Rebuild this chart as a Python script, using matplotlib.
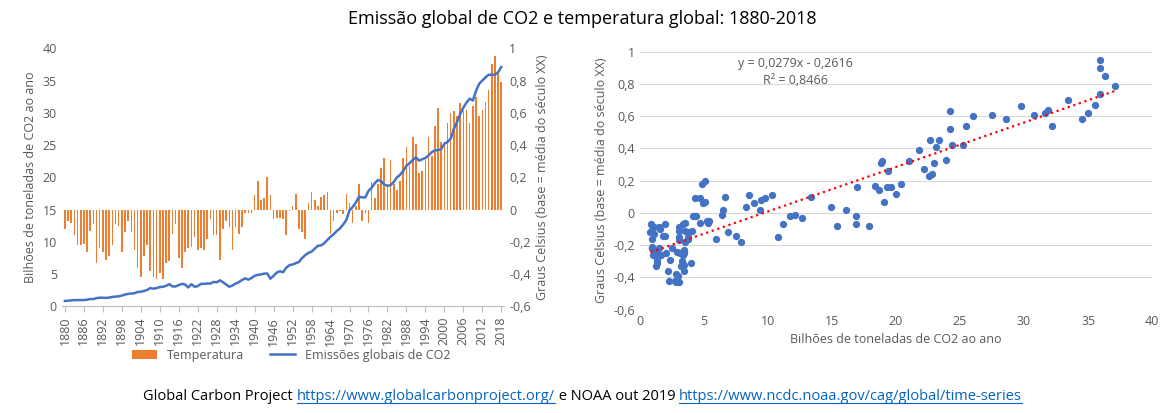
import matplotlib
matplotlib.use("Agg")
import matplotlib.pyplot as plt
import numpy as np
from matplotlib.ticker import FuncFormatter

plt.rcParams['font.family'] = ['Open Sans', 'DejaVu Sans']

anos = list(range(1880, 2019))
temperatura = [
    -0.12, -0.07, -0.08, -0.16, -0.22, -0.22, -0.21, -0.26, -0.13, -0.09,
    -0.33, -0.24, -0.26, -0.31, -0.29, -0.22, -0.09, -0.10, -0.26, -0.14,
    -0.07, -0.14, -0.25, -0.36, -0.42, -0.29, -0.22, -0.38, -0.42, -0.43,
    -0.39, -0.43, -0.33, -0.32, -0.15, -0.09, -0.30, -0.36, -0.26, -0.24,
    -0.23, -0.17, -0.25, -0.24, -0.25, -0.18, -0.06, -0.16, -0.16, -0.31,
    -0.12, -0.07, -0.11, -0.25, -0.11, -0.15, -0.11, -0.02, -0.02, -0.02,
    0.09, 0.18, 0.06, 0.07, 0.20, 0.09, -0.06, -0.05, -0.05, -0.06,
    -0.16, -0.01, 0.02, 0.10, -0.12, -0.14, -0.18, 0.04, 0.11, 0.06,
    0.02, 0.08, 0.09, 0.11, -0.15, -0.07, -0.02, -0.01, -0.03, 0.10,
    0.04, -0.08, 0.02, 0.16, -0.07, -0.02, -0.08, 0.17, 0.07, 0.16,
    0.26, 0.32, 0.14, 0.31, 0.16, 0.12, 0.18, 0.32, 0.39, 0.27,
    0.45, 0.41, 0.23, 0.24, 0.31, 0.45, 0.33, 0.52, 0.63, 0.42,
    0.42, 0.54, 0.60, 0.61, 0.58, 0.66, 0.61, 0.62, 0.54, 0.64,
    0.70, 0.58, 0.62, 0.67, 0.74, 0.90, 0.95, 0.85, 0.79]
emissoes = [
    0.85, 0.89, 0.93, 0.98, 0.99, 0.99, 0.99, 1.05, 1.15, 1.14,
    1.30, 1.35, 1.35, 1.32, 1.38, 1.48, 1.52, 1.58, 1.68, 1.84,
    1.95, 2.00, 2.05, 2.25, 2.28, 2.40, 2.55, 2.85, 2.75, 2.85,
    3.00, 3.05, 3.20, 3.45, 3.10, 3.10, 3.30, 3.50, 3.40, 2.95,
    3.45, 3.05, 3.15, 3.50, 3.50, 3.55, 3.55, 3.80, 3.75, 4.05,
    3.75, 3.40, 3.05, 3.25, 3.55, 3.75, 4.10, 4.35, 4.15, 4.40,
    4.75, 4.90, 4.95, 5.10, 5.10, 4.30, 4.75, 5.25, 5.45, 5.30,
    6.00, 6.40, 6.50, 6.70, 6.90, 7.50, 7.95, 8.30, 8.50, 8.95,
    9.40, 9.45, 9.80, 10.30, 10.80, 11.20, 11.70, 12.10, 12.70, 13.40,
    14.90, 15.40, 16.10, 17.00, 16.90, 16.90, 17.90, 18.40, 19.10, 19.60,
    19.40, 18.90, 18.70, 18.80, 19.30, 20.00, 20.40, 21.00, 21.80, 22.20,
    22.70, 23.10, 22.60, 22.80, 23.00, 23.40, 23.90, 24.20, 24.20, 24.40,
    25.20, 25.50, 26.00, 27.50, 28.60, 29.80, 30.80, 31.60, 32.20, 31.90,
    33.40, 34.50, 35.00, 35.50, 35.90, 35.90, 35.90, 36.30, 37.10]

laranja = '#ED7D31'
azul = '#4472C4'
cinza = '#595959'
virgula = FuncFormatter(lambda v, p: ('%g' % round(v, 2)).replace('.', ','))

fig = plt.figure(figsize=(11.65, 4.13), dpi=100)
fig.text(0.5, 0.955, 'Emissão global de CO2 e temperatura global: 1880-2018',
         ha='center', va='center', fontsize=13)

# grafico da esquerda
ax = fig.add_axes([0.053, 0.258, 0.38, 0.625])
ax2 = ax.twinx()
ax.set_zorder(ax2.get_zorder() + 1)
ax.patch.set_visible(False)
ax2.bar(anos, temperatura, width=0.5, color=laranja, label='Temperatura')
ax2.set_ylim(-0.6, 1)
ax2.set_yticks(np.arange(-0.6, 1.01, 0.2))
ax2.yaxis.set_major_formatter(virgula)
ax.plot(anos, emissoes, color=azul, lw=1.8, label='Emissões globais de CO2')
ax.set_ylim(0, 40)
ax.set_xlim(1879, 2019)
ax.set_xticks(range(1880, 2019, 6))
ax.tick_params(axis='x', labelrotation=90)
ax.set_ylabel('Bilhões de toneladas de CO2 ao ano', fontsize=9, color=cinza)
ax2.set_ylabel('Graus Celsius (base = média do século XX)', fontsize=9, color=cinza)
for a in (ax, ax2):
    for s in ['top', 'left', 'right']:
        a.spines[s].set_visible(False)
    a.spines['bottom'].set_color('#BFBFBF')
    a.tick_params(labelsize=9, colors=cinza, length=0)
ax.tick_params(axis='x', length=4, color='#BFBFBF')
h1, l1 = ax2.get_legend_handles_labels()
h2, l2 = ax.get_legend_handles_labels()
fig.legend(h1 + h2, l1 + l2, loc='center', bbox_to_anchor=(0.25, 0.14),
           ncol=2, frameon=False, fontsize=9, labelcolor=cinza)

# grafico da direita
bx = fig.add_axes([0.549, 0.25, 0.44, 0.625])
bx.scatter(emissoes, temperatura, s=18, color=azul, zorder=3)
coef = np.polyfit(emissoes, temperatura, 1)
xs = np.array([min(emissoes), max(emissoes)])
bx.plot(xs, np.polyval(coef, xs), ':', color='#FF0000', lw=1.6, zorder=4)
bx.set_xlim(0, 40)
bx.set_ylim(-0.6, 1)
bx.set_yticks(np.arange(-0.6, 1.01, 0.2))
bx.yaxis.set_major_formatter(virgula)
bx.grid(axis='y', color='#D9D9D9', lw=0.8)
bx.set_axisbelow(True)
for s in ['top', 'left', 'right', 'bottom']:
    bx.spines[s].set_visible(False)
bx.tick_params(labelsize=9, colors=cinza, length=0)
bx.set_xlabel('Bilhões de toneladas de CO2 ao ano', fontsize=9, color=cinza)
bx.set_ylabel('Graus Celsius (base = média do século XX)', fontsize=9, color=cinza)
bx.text(0.305, 0.92, 'y = 0,0279x - 0,2616\nR² = 0,8466', transform=bx.transAxes,
        ha='center', va='center', fontsize=9, color=cinza, linespacing=1.4)

# legenda de fontes com links
partes = [('Global Carbon Project ', 'black'),
          ('https://www.globalcarbonproject.org/', '#0563C1'),
          (' e NOAA out 2019 ', 'black'),
          ('https://www.ncdc.noaa.gov/cag/global/time-series', '#0563C1')]
fig.canvas.draw()
r = fig.canvas.get_renderer()
textos = [fig.text(0, 0.04, t, color=c, fontsize=10.5, va='center') for t, c in partes]
larg = [t.get_window_extent(r).width for t in textos]
x0 = (fig.bbox.width - sum(larg)) / 2
for t, w, (s, c) in zip(textos, larg, partes):
    t.set_x(x0 / fig.bbox.width)
    if c != 'black':
        bb = t.get_window_extent(r)
        yl = (bb.y0 + 1) / fig.bbox.height
        fig.add_artist(plt.Line2D([x0 / fig.bbox.width, (x0 + w) / fig.bbox.width],
                                  [yl, yl], color=c, lw=0.8))
    x0 += w

fig.savefig('out.png', dpi=100)
